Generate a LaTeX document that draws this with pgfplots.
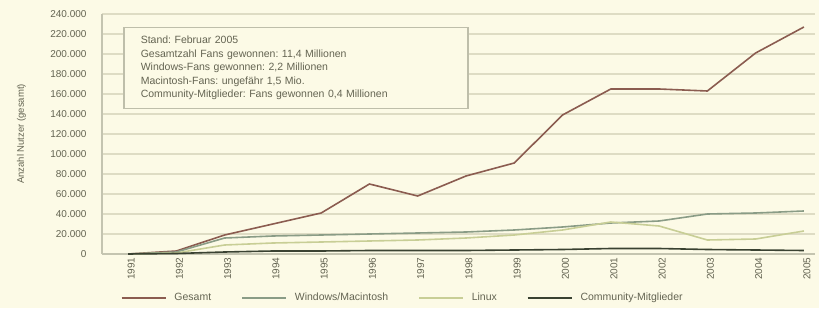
\documentclass[border=0pt]{standalone}
\usepackage{fontspec}
\setmainfont{Liberation Sans}
\usepackage{pgfplots}
\pgfplotsset{compat=1.18}
\definecolor{bg}{RGB}{252,250,230}
\definecolor{gridc}{RGB}{222,220,196}
\definecolor{axc}{RGB}{196,196,176}
\definecolor{sA}{RGB}{139,92,80}
\definecolor{sB}{RGB}{138,156,134}
\definecolor{sC}{RGB}{200,206,150}
\definecolor{sD}{RGB}{58,66,50}
\definecolor{txt}{RGB}{100,100,82}
\definecolor{boxc}{RGB}{190,190,170}
\frenchspacing
\begin{document}
\begin{tikzpicture}[x=1pt,y=1pt]
\path[use as bounding box, fill=bg] (0,0) rectangle (819,308);
\begin{axis}[
  at={(102pt,54pt)}, anchor=south west, scale only axis,
  width=713pt, height=240pt,
  xmin=-0.54, xmax=14.23, ymin=0, ymax=240000,
  xtick={0,...,14},
  xticklabels={1991,1992,1993,1994,1995,1996,1997,1998,1999,2000,2001,2002,2003,2004,2005},
  ytick={0,20000,40000,60000,80000,100000,120000,140000,160000,180000,200000,220000,240000},
  yticklabels={0,20.000,40.000,60.000,80.000,100.000,120.000,140.000,160.000,180.000,200.000,220.000,240.000},
  scaled y ticks=false,
  xticklabel style={rotate=90, anchor=east, font=\fontsize{10}{11}\selectfont, text=txt, yshift=-3pt},
  yticklabel style={font=\fontsize{10}{11}\selectfont, text=txt, xshift=-12pt},
  tick style={draw=none},
  ymajorgrids, grid style={gridc, line width=1.2pt},
  axis x line*=bottom, axis y line*=left,
  axis line style={-, axc, line width=1.2pt},
  ylabel={Anzahl Nutzer (gesamt)},
  ylabel style={at={(axis description cs:-0.113,0.5)}, anchor=center, font=\fontsize{9.5}{10}\selectfont, text=txt},
  legend style={at={(axis description cs:0.022,-0.183)}, anchor=west, draw=none, fill=none,
    font=\fontsize{10.5}{11}\selectfont, text=txt, legend columns=-1,
    /tikz/every even column/.append style={column sep=28pt}},
  legend image code/.code={\draw[#1] (0pt,0pt) -- (44pt,0pt); \path (50pt,0pt);},
  every axis plot/.append style={line width=1.6pt},
]
\addplot[sA] coordinates {(0,0) (1,3000) (2,19000) (3,30000) (4,41000) (5,70000) (6,58000) (7,78000) (8,91000) (9,139000) (10,165000) (11,165000) (12,163000) (13,201000) (14,227000)};
\addlegendentry{Gesamt}
\addplot[sB] coordinates {(0,0) (1,2000) (2,16000) (3,18000) (4,19000) (5,20000) (6,21000) (7,22000) (8,24000) (9,27000) (10,31000) (11,33000) (12,40000) (13,41000) (14,43000)};
\addlegendentry{Windows/Macintosh}
\addplot[sC] coordinates {(0,0) (1,1000) (2,9000) (3,11000) (4,12000) (5,13000) (6,14000) (7,16000) (8,19000) (9,24000) (10,32000) (11,28000) (12,14000) (13,15000) (14,23000)};
\addlegendentry{Linux}
\addplot[sD] coordinates {(0,0) (1,500) (2,2000) (3,3000) (4,3000) (5,3500) (6,3500) (7,3500) (8,4000) (9,4500) (10,5500) (11,5500) (12,4500) (13,4000) (14,3500)};
\addlegendentry{Community-Mitglieder}
\node[anchor=north west, draw=boxc, line width=1.5pt, fill=bg, align=left,
  text width=310pt, minimum height=81pt, inner xsep=17pt, text=txt,
  font=\fontsize{10.5}{13.5}\selectfont]
  at (axis description cs:0.0295,0.946)
  {Stand: Februar 2005\\
   Gesamtzahl Fans gewonnen: 11,4 Millionen\\
   Windows-Fans gewonnen: 2,2 Millionen\\
   Macintosh-Fans: ungefähr 1,5 Mio.\\
   Community-Mitglieder: Fans gewonnen 0,4 Millionen};
\end{axis}
\end{tikzpicture}
\end{document}
